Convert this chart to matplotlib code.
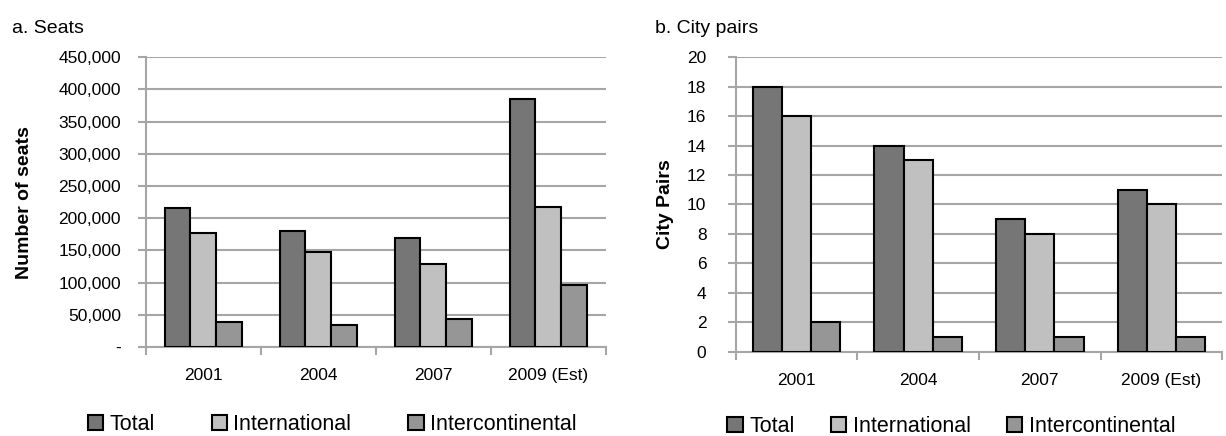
import matplotlib
matplotlib.use("Agg")
import matplotlib.pyplot as plt
import numpy as np
from matplotlib.patches import Patch
from matplotlib.ticker import FuncFormatter, FixedLocator

years = ["2001", "2004", "2007", "2009 (Est)"]
series = ["Total", "International", "Intercontinental"]

seats_total = [216000, 180000, 170000, 385000]
seats_international = [177000, 147000, 129000, 217000]
seats_intercontinental = [39000, 34000, 43000, 96000]

pairs_total = [18, 14, 9, 11]
pairs_international = [16, 13, 8, 10]
pairs_intercontinental = [2, 1, 1, 1]

colors = ["#767676", "#c0c0c0", "#969696"]
grid_col = "#a6a6a6"

plt.rcParams['font.family'] = ['Liberation Sans', 'DejaVu Sans']

fig = plt.figure(figsize=(12.26, 4.36), dpi=100)
ax1 = fig.add_axes([0.119, 0.204, 0.375, 0.665])
ax2 = fig.add_axes([0.600, 0.193, 0.397, 0.676])


def draw(ax, data, ymax, step, bw, ylabel, label_x, ypad, fmt):
    x = np.arange(len(years))
    for i, vals in enumerate(data):
        ax.bar(x + (i - 1) * bw, vals, bw, color=colors[i],
               edgecolor="black", linewidth=1.5, zorder=3)
    ax.set_xlim(-0.5, len(years) - 0.5)
    ax.set_ylim(0, ymax)
    ax.set_yticks(np.arange(0, ymax + step, step))
    ax.yaxis.set_major_formatter(FuncFormatter(fmt))
    ax.set_xticks(x)
    ax.set_xticklabels(years, fontsize=12.5)
    ax.xaxis.set_minor_locator(FixedLocator(np.arange(-0.5, len(years), 1.0)))
    ax.tick_params(axis="x", which="major", length=0, pad=15)
    ax.tick_params(axis="x", which="minor", length=6, width=1.5, color=grid_col)
    ax.tick_params(axis="y", length=6, width=1.5, color=grid_col, labelsize=12.5, pad=ypad)
    ax.grid(axis="y", color=grid_col, linewidth=1.5, zorder=0)
    ax.set_axisbelow(True)
    for s in ["top", "right"]:
        ax.spines[s].set_visible(False)
    for s in ["left", "bottom"]:
        ax.spines[s].set_color(grid_col)
        ax.spines[s].set_linewidth(1.5)
    ax.set_ylabel(ylabel, fontsize=14, fontweight="bold")
    ax.yaxis.set_label_coords(label_x, 0.5)


draw(ax1, [seats_total, seats_international, seats_intercontinental],
     450000, 50000, 0.224, "Number of seats", -0.246, 12,
     lambda v, p: "-" if v == 0 else f"{int(v):,}")
draw(ax2, [pairs_total, pairs_international, pairs_intercontinental],
     20, 2, 0.24, "City Pairs", -0.126, 15,
     lambda v, p: f"{int(v)}")

fig.text(0.010, 0.925, "a. Seats", fontsize=14)
fig.text(0.534, 0.925, "b. City pairs", fontsize=14)

handles = [Patch(facecolor=colors[i], edgecolor="black", linewidth=1.5, label=series[i])
           for i in range(3)]
fig.legend(handles=handles, loc="center", bbox_to_anchor=(0.271, 0.027), ncol=3,
           frameon=False, fontsize=15.5, handlelength=0.7, handleheight=0.7,
           handletextpad=0.3, columnspacing=2.65)
fig.legend(handles=handles, loc="center", bbox_to_anchor=(0.776, 0.022), ncol=3,
           frameon=False, fontsize=15.5, handlelength=0.7, handleheight=0.7,
           handletextpad=0.3, columnspacing=1.7)

fig.savefig("out.png", dpi=100)
